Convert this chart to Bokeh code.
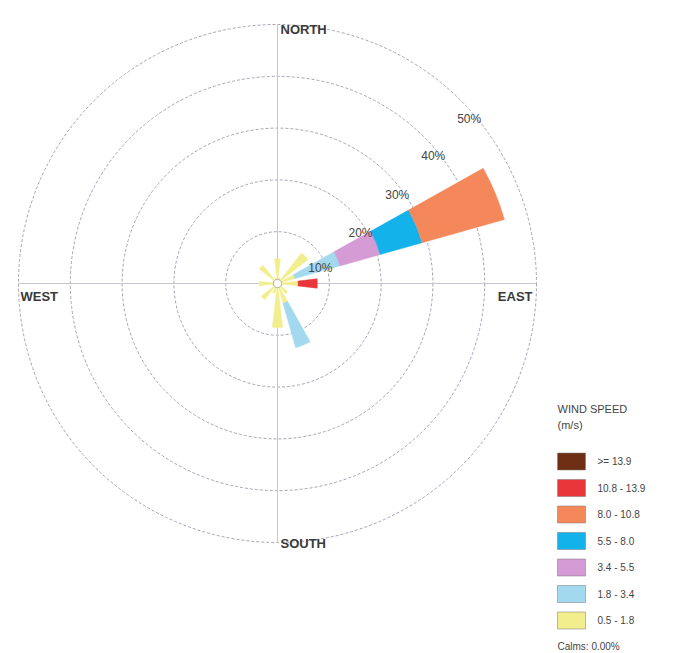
import numpy as np
from bokeh.plotting import figure
from bokeh.models import Range1d, ColumnDataSource
from bokeh.core.properties import value
from bokeh.embed import file_html
from bokeh.resources import INLINE

# ---------------- data ----------------
directions = ["N", "NNE", "NE", "ENE", "E", "ESE", "SE", "SSE",
              "S", "SSW", "SW", "WSW", "W", "WNW", "NW", "NNW"]
speed_labels = ["0.5 - 1.8", "1.8 - 3.4", "3.4 - 5.5", "5.5 - 8.0",
                "8.0 - 10.8", "10.8 - 13.9", ">= 13.9"]
speed_colors = ["#f2ee8e", "#a3d9ef", "#d59bd5", "#14b2ea",
                "#f5885b", "#e8363a", "#6e2f14"]
# frequency (%) per speed class for each of the 16 directions
f_05_18 = [4.8, 1.2, 7.5, 3.5, 4.0, 1.0, 2.5, 4.0, 8.5, 2.0, 4.0, 1.0, 3.5, 1.0, 4.5, 1.2]
f_18_34 = [0, 0, 0, 9.0, 0, 0, 0, 8.9, 0, 0, 0, 0, 0, 0, 0, 0]
f_34_55 = [0, 0, 0, 8.1, 0, 0, 0, 0, 0, 0, 0, 0, 0, 0, 0, 0]
f_55_80 = [0, 0, 0, 8.4, 0, 0, 0, 0, 0, 0, 0, 0, 0, 0, 0, 0]
f_80_108 = [0, 0, 0, 16.5, 0, 0, 0, 0, 0, 0, 0, 0, 0, 0, 0, 0]
f_108_139 = [0, 0, 0, 0, 3.7, 0, 0, 0, 0, 0, 0, 0, 0, 0, 0, 0]
f_139_up = [0] * 16
classes = [f_05_18, f_18_34, f_34_55, f_55_80, f_80_108, f_108_139, f_139_up]

ring_values = [10, 20, 30, 40, 50]
ring_labels = ["10%", "20%", "30%", "40%", "50%"]
calms_text = "Calms: 0.00%"

# ---------------- layout helpers ----------------
W, H = 678, 653
CX, CY = 277, 283        # centre in pixels
S = 5.18                 # pixels per percent


def px(x):
    return (x - CX) / S


def py(y):
    return (CY - y) / S


p = figure(width=W, height=H, output_backend="svg", toolbar_location=None,
           x_range=Range1d(px(0), px(W)), y_range=Range1d(py(H), py(0)),
           x_axis_type=None, y_axis_type=None, min_border=0,
           background_fill_color="white", border_fill_color="white")
p.outline_line_color = None
p.xgrid.visible = False
p.ygrid.visible = False

# grid rings
p.circle(x=[0] * len(ring_values), y=[0] * len(ring_values), radius=ring_values,
         fill_color=None, line_color="#a4a4b4", line_dash="3 2", line_width=1)
# cross hairs
rmax = max(ring_values)
p.segment(x0=[0, -rmax], y0=[-rmax, 0], x1=[0, rmax], y1=[rmax, 0],
          line_color="#c6c6ce", line_width=1)

# petals
width_deg = 13.5
inner, outer, start, end, cols = [], [], [], [], []
for i, d in enumerate(directions):
    bearing = i * 22.5
    mid = 90 - bearing
    cum = 0.0
    for k, cl in enumerate(classes):
        v = cl[i]
        if v > 0:
            inner.append(cum)
            outer.append(cum + v)
            start.append(mid - width_deg / 2)
            end.append(mid + width_deg / 2)
            cols.append(speed_colors[k])
            cum += v
src = ColumnDataSource(dict(inner=inner, outer=outer, start=start, end=end, color=cols))
p.annular_wedge(x=0, y=0, inner_radius="inner", outer_radius="outer",
                start_angle="start", end_angle="end",
                start_angle_units="deg", end_angle_units="deg",
                fill_color="color", line_color="color", line_width=0.5,
                source=src)
# calm circle
p.circle(x=[0], y=[0], radius=0.8, fill_color="white", line_color="#b0b0b0", line_width=1)

# ring labels
label_angles = [20, 31.5, 36.6, 39.2, 40.7]
label_r = [r - 1.2 for r in ring_values]
lx = [r * np.cos(np.radians(a)) for r, a in zip(label_r, label_angles)]
ly = [r * np.sin(np.radians(a)) for r, a in zip(label_r, label_angles)]
p.text(x=lx, y=ly, text=ring_labels, text_align="center", text_baseline="middle",
       text_font=value("Liberation Sans"), text_font_size=value("12px"),
       text_color="#444444")

# compass labels
p.text(x=[px(280)], y=[py(29)], text=["NORTH"], text_align="left", text_baseline="middle",
       text_font=value("Liberation Sans"), text_font_size=value("13px"),
       text_font_style="bold", text_color="#3a3a3a")
p.text(x=[px(280)], y=[py(543)], text=["SOUTH"], text_align="left", text_baseline="middle",
       text_font=value("Liberation Sans"), text_font_size=value("13px"),
       text_font_style="bold", text_color="#3a3a3a")
p.text(x=[px(20)], y=[py(296)], text=["WEST"], text_align="left", text_baseline="middle",
       text_font=value("Liberation Sans"), text_font_size=value("13px"),
       text_font_style="bold", text_color="#3a3a3a")
p.text(x=[px(532)], y=[py(296)], text=["EAST"], text_align="right", text_baseline="middle",
       text_font=value("Liberation Sans"), text_font_size=value("13px"),
       text_font_style="bold", text_color="#3a3a3a")

# legend
p.text(x=[px(557), px(557)], y=[py(408), py(424)], text=["WIND SPEED", "(m/s)"],
       text_align="left", text_baseline="middle",
       text_font=value("Liberation Sans"), text_font_size=value("11px"),
       text_color="#444444")
n = len(speed_labels)
order = list(range(n))[::-1]
ys = [py(461 + 26.5 * j) for j in range(n)]
p.rect(x=[px(571)] * n, y=ys, width=28 / S, height=17 / S,
       fill_color=[speed_colors[k] for k in order], line_color="#777777", line_width=0.5)
p.text(x=[px(597)] * n, y=ys, text=[speed_labels[k] for k in order],
       text_align="left", text_baseline="middle",
       text_font=value("Liberation Sans"), text_font_size=value("10px"),
       text_color="#444444")
p.text(x=[px(557)], y=[py(646)], text=[calms_text], text_align="left", text_baseline="middle",
       text_font=value("Liberation Sans"), text_font_size=value("10px"),
       text_color="#444444")

open("out.html", "w").write(file_html(p, INLINE))
